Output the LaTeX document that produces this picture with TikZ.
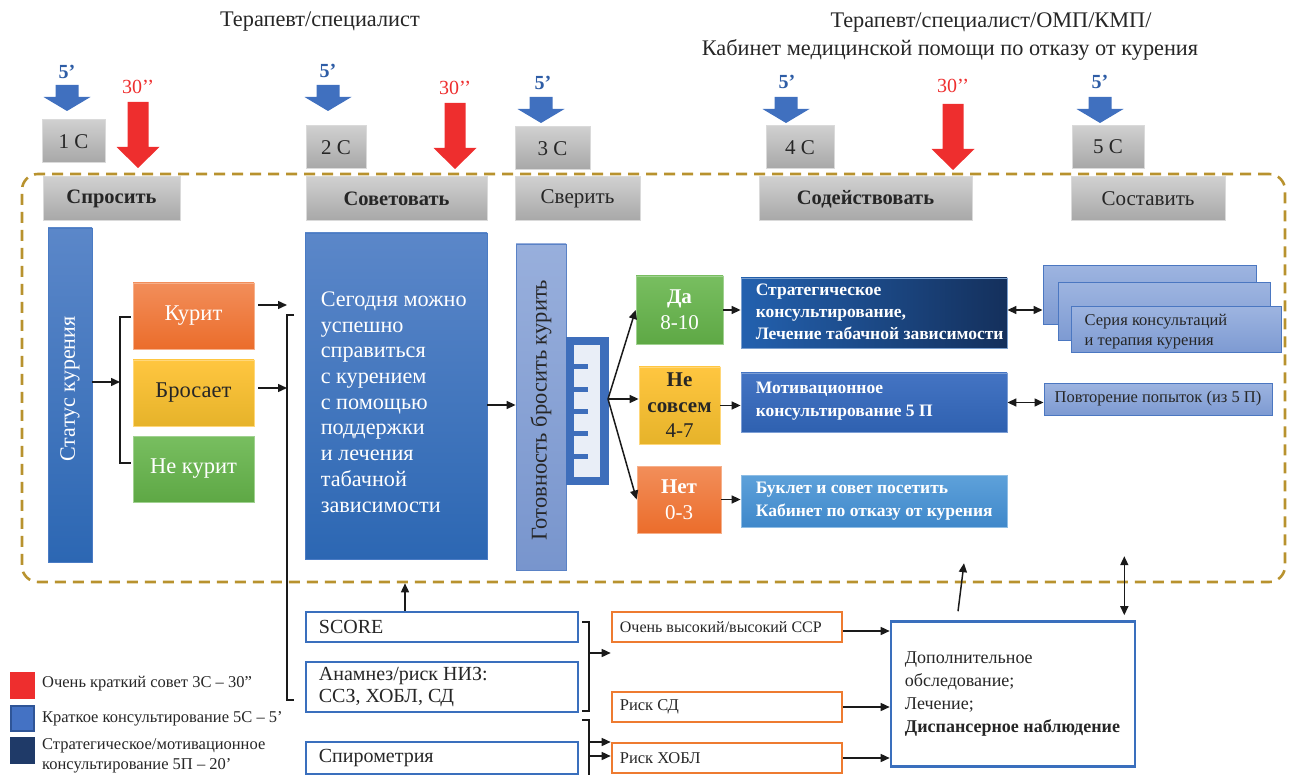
\documentclass[tikz,border=0pt]{standalone}
\usepackage{fontspec}
\setmainfont{Liberation Serif}
\usetikzlibrary{arrows.meta,calc}
\definecolor{txt}{HTML}{262626}
\definecolor{grayT}{HTML}{D0D0D0}
\definecolor{grayB}{HTML}{A7A7A7}
\definecolor{grayE}{HTML}{DADADA}
\definecolor{arrB}{HTML}{4070BF}
\definecolor{labB}{HTML}{2E5DA6}
\definecolor{redA}{HTML}{EE2E2E}
\definecolor{gold}{HTML}{B8922E}
\definecolor{blueT}{HTML}{5B87C9}
\definecolor{blueB}{HTML}{2C67B3}
\definecolor{blueE}{HTML}{4A7BC4}
\definecolor{ltT}{HTML}{98AFDC}
\definecolor{ltB}{HTML}{7895CD}
\definecolor{ltE}{HTML}{5A82C6}
\definecolor{orT}{HTML}{F28E5A}
\definecolor{orB}{HTML}{EB6D2B}
\definecolor{yeT}{HTML}{FFC640}
\definecolor{yeB}{HTML}{E6B32A}
\definecolor{grT}{HTML}{78BE60}
\definecolor{grB}{HTML}{5EA845}
\definecolor{stL}{HTML}{2361AF}
\definecolor{stR}{HTML}{14305C}
\definecolor{moT}{HTML}{4474C3}
\definecolor{moB}{HTML}{2F61B0}
\definecolor{buT}{HTML}{5EA1DA}
\definecolor{buB}{HTML}{3F88CA}
\definecolor{skT}{HTML}{9DB4E0}
\definecolor{skB}{HTML}{7D9AD2}
\definecolor{skE}{HTML}{4B77C1}
\definecolor{bxB}{HTML}{3A6FBD}
\definecolor{bxO}{HTML}{EE7B30}
\definecolor{combB}{HTML}{3E6EBB}
\definecolor{combL}{HTML}{E9EEF7}
\definecolor{lgBlue}{HTML}{4472C4}
\definecolor{lgBlueE}{HTML}{2F5597}
\definecolor{lgNavy}{HTML}{1F3A68}
\definecolor{lineK}{HTML}{1A1A1A}
\newcommand{\fsz}[2]{\fontsize{#1}{#2}\selectfont}
\begin{document}
\begin{tikzpicture}[x=1pt,y=-1pt,
  every node/.style={inner sep=0pt},
  gbox/.style={draw=grayE, line width=1pt, top color=grayT, bottom color=grayB, text=txt, font=\fsz{21}{25}},
  gboxb/.style={gbox, font=\fsz{20.5}{25}\bfseries},
  lab5/.style={text=labB, font=\fsz{20}{24}\bfseries},
  lab30/.style={text=redA, font=\fsz{20}{24}},
  arr/.style={draw=lineK, line width=1.5pt, -{Triangle[length=9pt,width=8pt]}},
  darr/.style={draw=lineK, line width=1.5pt, {Triangle[length=9pt,width=8pt]}-{Triangle[length=9pt,width=8pt]}},
  brk/.style={draw=lineK, line width=1.1pt},
  bluebar/.style={draw=blueE, line width=0.8pt, top color=blueT, bottom color=blueB},
  ltbar/.style={draw=ltE, line width=0.8pt, top color=ltT, bottom color=ltB},
  obox/.style={draw=orT!70!white, line width=0.8pt, top color=orT, bottom color=orB, text=white},
  ybox/.style={draw=yeT!70!white, line width=0.8pt, top color=yeT, bottom color=yeB, text=txt},
  grbox/.style={draw=grT!70!white, line width=0.8pt, top color=grT, bottom color=grB, text=white},
  stk/.style={draw=skE, line width=1pt, top color=skT, bottom color=skB},
  wbox/.style={draw=bxB, line width=2.6pt, fill=white},
  owbox/.style={draw=bxO, line width=2.6pt, fill=white},
  zone/.style={draw=gold, line width=2.6pt, dash pattern=on 11pt off 7pt, rounded corners=16pt},
  barr/.pic={\fill[arrB] (-11.5,0) -- (11.5,0) -- (11.5,12) -- (23.5,12) -- (0,26) -- (-23.5,12) -- (-11.5,12) -- cycle;},
  rarr/.pic={\fill[redA] (-10.5,0) -- (10.5,0) -- (10.5,45) -- (21.5,45) -- (0,66) -- (-21.5,45) -- (-10.5,45) -- cycle;}
]
\useasboundingbox (0,0) rectangle (1290,775);

% titles
\node[text=txt, font=\fsz{22.3}{26}] (t1) at (320,22) {Терапевт/специалист};
\node[text=txt, font=\fsz{22.3}{26}] (t2a) at (991,22) {Терапевт/специалист/ОМП/КМП/};
\node[text=txt, font=\fsz{22.3}{26}] (t2b) at (950,50) {Кабинет медицинской помощи по отказу от курения};

% dashed zone
\node[zone, minimum width=1263, minimum height=408] (zone) at (653.5,378) {};

% block arrows and labels
\pic at (67,85) {barr};
\pic at (328,85) {barr};
\pic at (541,97) {barr};
\pic at (786,97) {barr};
\pic at (1100,97) {barr};
\node[lab5] (f1) at (67,72) {5’};
\node[lab5] (f2) at (328,71) {5’};
\node[lab5] (f3) at (543,83) {5’};
\node[lab5] (f4) at (787,82) {5’};
\node[lab5] (f5) at (1100,82) {5’};
\pic at (138,102) {rarr};
\pic at (455,103) {rarr};
\pic at (953,104) {rarr};
\node[lab30] (h1) at (138,87) {30’’};
\node[lab30] (h2) at (455,88) {30’’};
\node[lab30] (h3) at (953,86) {30’’};

% gray boxes
\node[gbox, minimum width=63, minimum height=43] (c1) at (73.5,141.5) {1 C};
\node[gbox, minimum width=60, minimum height=43] (c2) at (336,147.5) {2 C};
\node[gbox, minimum width=75, minimum height=43] (c3) at (552.5,148.5) {3 C};
\node[gbox, minimum width=68, minimum height=43] (c4) at (800,147.5) {4 C};
\node[gbox, minimum width=72, minimum height=43] (c5) at (1108,147) {5 C};
\node[gboxb, minimum width=137, minimum height=44] (s1) at (111.5,199) {Спросить};
\node[gboxb, minimum width=181, minimum height=44] (s2) at (396.5,199) {Советовать};
\node[gbox, minimum width=125, minimum height=44] (s3) at (577.5,199) {Сверить};
\node[gboxb, minimum width=213, minimum height=44] (s4) at (865.5,199) {Содействовать};
\node[gbox, minimum width=154, minimum height=44] (s5) at (1148,199) {Составить};

% smoking status
\node[bluebar, minimum width=44, minimum height=334] (status) at (70,395) {};
\node[rotate=90, text=white, font=\fsz{22}{26}] (statust) at (70,389) {Статус курения};
\node[obox, minimum width=121, minimum height=66, font=\fsz{22.5}{26}] (kurit) at (193.5,316) {Курит};
\node[ybox, minimum width=121, minimum height=66, font=\fsz{22.5}{26}] (bros) at (193.5,393) {Бросает};
\node[grbox, minimum width=121, minimum height=66, font=\fsz{22.5}{26}] (nekur) at (193.5,469) {Не курит};
\coordinate (br1) at (120,382);
\draw[brk] ($(kurit.west)+(-2,1)$) -- (120,317) -- (120,463) -- ($(nekur.west)+(-2,-6)$);
\draw[arr] (status.east |- br1) -- (br1);

% advise box
\node[bluebar, minimum width=182, minimum height=326] (big) at (396,396) {};
\node[anchor=west, align=left, text=white, font=\fsz{22.2}{25.7}] (bigt) at ($(big.west)+(16,6)$)
 {Сегодня можно\\успешно\\справиться\\с курением\\с помощью\\поддержки\\и лечения\\табачной\\зависимости};
\coordinate (b2t) at (287,315);
\coordinate (b2b) at (287,700);
\draw[brk] ($(b2t)+(7,0)$) -- (b2t) -- (b2b) -- ($(b2b)+(7,0)$);
\draw[arr] ($(kurit.east)+(4,-11)$) coordinate (ka) -- (ka -| b2t);
\draw[arr] ($(bros.east)+(4,-5)$) coordinate (kb) -- (kb -| b2t);

% readiness
\node[ltbar, minimum width=50, minimum height=326] (ready) at (541,407) {};
\node[rotate=90, text=txt, font=\fsz{22.5}{26}] (readyt) at (541,410) {Готовность бросить курить};
\draw[arr] ($(big.east)+(0,9)$) coordinate (bg) -- (bg -| ready.west);
% comb
\fill[combB] (566,337) rectangle (609,485);
\fill[combL] (574,345) rectangle (600,477);
\foreach \yy in {364,387,409,431,454} {\fill[combB] (574,\yy) rectangle (588,\yy+5);}
\coordinate (fan) at (608,399);

% answers
\node[grbox, minimum width=87, minimum height=68, align=center, font=\fsz{21}{26}] (da) at (679.5,310) {\textbf{Да}\\8-10};
\node[ybox, minimum width=81, minimum height=77, align=center, font=\fsz{21}{25.5}] (nes) at (679.5,405.5) {\textbf{Не}\\\textbf{совсем}\\4-7};
\node[obox, minimum width=84, minimum height=67, align=center, font=\fsz{21}{26}] (net) at (679,499.5) {\textbf{Нет}\\0-3};
\draw[arr] (fan) -- (da.west);
\draw[arr] (fan) -- (fan -| nes.west);
\draw[arr] (fan) -- (net.west);

\node[draw=stL!60!white, line width=0.8pt, left color=stL, right color=stR, minimum width=266, minimum height=70] (strat) at (874,313) {};
\node[anchor=west, align=left, text=white, font=\fsz{17.5}{22}\bfseries] (stratt) at ($(strat.west)+(15,-1)$)
 {Стратегическое\\консультирование,\\Лечение табачной зависимости};
\node[draw=moT!70!white, line width=0.8pt, top color=moT, bottom color=moB, minimum width=266, minimum height=59] (mot) at (874,402.5) {};
\node[anchor=west, align=left, text=white, font=\fsz{17.5}{23}\bfseries] (mott) at ($(mot.west)+(15,-1)$)
 {Мотивационное\\консультирование 5 П};
\node[draw=buT!70!white, line width=0.8pt, top color=buT, bottom color=buB, minimum width=266, minimum height=52] (buk) at (874,501) {};
\node[anchor=west, align=left, text=white, font=\fsz{17.5}{23}\bfseries] (bukt) at ($(buk.west)+(15,0.5)$)
 {Буклет и совет посетить\\Кабинет по отказу от курения};
\draw[arr] (da.east) -- (da.east -| strat.west);
\draw[arr] (nes.east) -- (nes.east -| mot.west);
\draw[arr] (net.east) -- (net.east -| buk.west);

% stack and repetition
\node[stk, minimum width=213, minimum height=59] (k1) at (1149.5,295.5) {};
\node[stk, minimum width=212, minimum height=58] (k2) at (1164,312) {};
\node[stk, minimum width=210, minimum height=46] (k3) at (1176,330) {};
\node[anchor=west, align=left, text=txt, font=\fsz{16.5}{19.5}] (k3t) at ($(k3.west)+(14,1.5)$)
 {Серия консультаций\\и терапия курения};
\node[stk, minimum width=228, minimum height=32, font=\fsz{16.5}{20}, text=txt] (rep) at (1158,399) {Повторение попыток (из 5 П)};
\draw[darr] ($(strat.east)+(0,-3)$) coordinate (se) -- (se -| k1.west);
\draw[darr] (mot.east) -- (mot.east -| rep.west);

% bottom boxes
\node[wbox, minimum width=272, minimum height=30] (score) at (442,627) {};
\node[anchor=west, text=txt, font=\fsz{20}{24}] (scoret) at ($(score.west)+(14,0)$) {SCORE};
\node[wbox, minimum width=272, minimum height=50] (anam) at (442,687) {};
\node[anchor=west, align=left, text=txt, font=\fsz{20}{22}] (anamt) at ($(anam.west)+(14,0)$) {Анамнез/риск НИЗ:\\ССЗ, ХОБЛ, СД};
\node[wbox, minimum width=272, minimum height=32] (spir) at (442,758) {};
\node[anchor=west, text=txt, font=\fsz{20}{24}] (spirt) at ($(spir.west)+(14,0)$) {Спирометрия};
\draw[arr] ($(score.north)+(-37,0)$) coordinate (sn) -- (sn |- zone.south);

\node[owbox, minimum width=230, minimum height=30] (ssr) at (727,627) {};
\node[anchor=west, text=txt, font=\fsz{16}{20}] (ssrt) at ($(ssr.west)+(9,0)$) {Очень высокий/высокий ССР};
\node[owbox, minimum width=230, minimum height=30] (sd) at (727,707) {};
\node[anchor=west, text=txt, font=\fsz{16.5}{20}] (sdt) at ($(sd.west)+(9,0)$) {Риск СД};
\node[owbox, minimum width=230, minimum height=30] (hobl) at (727,758) {};
\node[anchor=west, text=txt, font=\fsz{16.5}{20}] (hoblt) at ($(hobl.west)+(9,0)$) {Риск ХОБЛ};

\coordinate (ba) at (589,653);
\draw[brk] ($(score.east)+(3,-5)$) -- (589,622) -- (589,711) -- ($(anam.east)+(3,24)$);
\draw[arr] (ba) -- (ba -| ssr.west);
\coordinate (bb) at (589,720);
\draw[brk] ($(anam.east)+(3,33)$) -- (bb) -- (589,775);
\draw[arr] (589,742) coordinate (bb1) -- (bb1 -| hobl.west);
\draw[arr] (589,756) coordinate (bb2) -- (bb2 -| hobl.west);

\node[wbox, minimum width=244, minimum height=145] (dop) at (1013,694) {};
\node[anchor=west, align=left, text=txt, font=\fsz{18}{22.8}] (dopt) at ($(dop.west)+(15,0)$)
 {Дополнительное\\обследование;\\Лечение;\\\textbf{Диспансерное наблюдение}};
\draw[arr] ($(ssr.east)+(0,4)$) coordinate (oe1) -- (oe1 -| dop.west);
\draw[arr] (sd.east) -- (sd.east -| dop.west);
\draw[arr] (hobl.east) -- (hobl.east -| dop.west);
\draw[arr] ($(dop.north)+(-55,-9)$) -- ++(6,-48);
\draw[darr] ($(dop.north east)+(-12,-5)$) -- ++(0,-59);

% legend
\node[fill=redA, minimum width=25, minimum height=27] (lg1) at (22.5,685) {};
\node[fill=lgBlue, draw=lgBlueE, line width=2pt, minimum width=23, minimum height=25] (lg2) at (22.5,718) {};
\node[fill=lgNavy, minimum width=25, minimum height=27] (lg3) at (22.5,750.5) {};
\node[anchor=west, text=txt, font=\fsz{16.5}{19.5}] (lg1t) at (42,684) {Очень краткий совет 3С – 30”};
\node[anchor=west, text=txt, font=\fsz{16.5}{19.5}] (lg2t) at (42,719) {Краткое консультирование 5С – 5’};
\node[anchor=west, align=left, text=txt, font=\fsz{16.5}{19.5}] (lg3t) at (42,756) {Стратегическое/мотивационное\\консультирование 5П – 20’};
\end{tikzpicture}
\end{document}
